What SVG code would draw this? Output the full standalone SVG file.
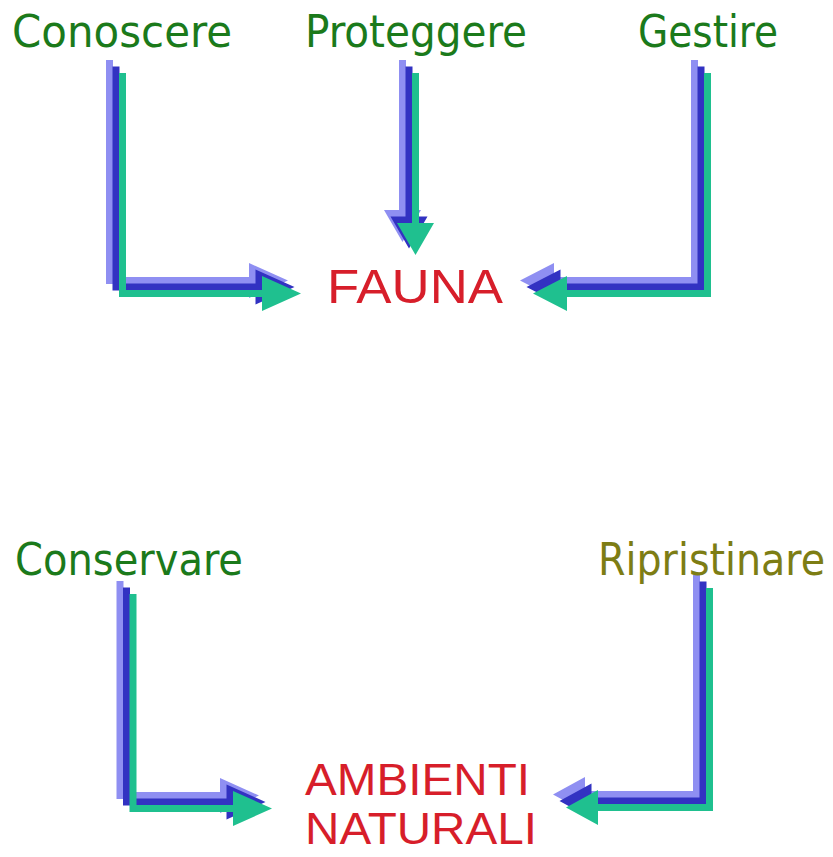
<svg xmlns="http://www.w3.org/2000/svg" xmlns:xlink="http://www.w3.org/1999/xlink" width="833" height="857" viewBox="0 0 833 857">
<style>
  .lbl { font-family: "Liberation Sans Narrow", "DejaVu Sans Condensed", "Liberation Sans", sans-serif; font-size: 44px; fill: #1b7a1b; }
  .olive { fill: #7d7d14; }
  .tgt { font-family: "Liberation Sans", "DejaVu Sans", sans-serif; font-size: 49px; fill: #d71e2a; }
  .tgt2 { font-size: 44px; }
  .l1 { fill: #8f8ff2; }
  .l2 { fill: #3232c2; }
  .l3 { fill: #1fc08f; }
</style>
<defs>
  <path id="a1" d="M119,73 H126 V290 H262 V276 L301,293.5 L262,311 V297 H119 Z"/>
  <path id="a2" d="M412,73 H419 V223 H434 L415.5,255 L397,223 H412 Z"/>
  <path id="a3" d="M704,73 H711 V297 H567 V311 L533,293.5 L567,276 V290 H704 Z"/>
  <path id="a4" d="M129.5,594 H136.5 V805 H233 V791 L272,808.5 L233,826 V812 H129.5 Z"/>
  <path id="a5" d="M706,588 H713 V811 H598 V825 L566,807.5 L598,790 V804 H706 Z"/>
</defs>
<rect width="833" height="857" fill="#ffffff"/>
<g id="connectors">
  <use xlink:href="#a1" href="#a1" class="l1" transform="translate(-13,-13)"/>
  <use xlink:href="#a1" href="#a1" class="l2" transform="translate(-6.5,-6.5)"/>
  <use xlink:href="#a1" href="#a1" class="l3"/>
  <use xlink:href="#a2" href="#a2" class="l1" transform="translate(-13,-13)"/>
  <use xlink:href="#a2" href="#a2" class="l2" transform="translate(-6.5,-6.5)"/>
  <use xlink:href="#a2" href="#a2" class="l3"/>
  <use xlink:href="#a3" href="#a3" class="l1" transform="translate(-13,-13)"/>
  <use xlink:href="#a3" href="#a3" class="l2" transform="translate(-6.5,-6.5)"/>
  <use xlink:href="#a3" href="#a3" class="l3"/>
  <use xlink:href="#a4" href="#a4" class="l1" transform="translate(-13,-13)"/>
  <use xlink:href="#a4" href="#a4" class="l2" transform="translate(-6.5,-6.5)"/>
  <use xlink:href="#a4" href="#a4" class="l3"/>
  <use xlink:href="#a5" href="#a5" class="l1" transform="translate(-13,-13)"/>
  <use xlink:href="#a5" href="#a5" class="l2" transform="translate(-6.5,-6.5)"/>
  <use xlink:href="#a5" href="#a5" class="l3"/>
</g>
<g id="conoscere"><text class="lbl" x="12" y="47" textLength="220" lengthAdjust="spacingAndGlyphs">Conoscere</text></g>
<g id="proteggere"><text class="lbl" x="305" y="47" textLength="222" lengthAdjust="spacingAndGlyphs">Proteggere</text></g>
<g id="gestire"><text class="lbl" x="638" y="47" textLength="140" lengthAdjust="spacingAndGlyphs">Gestire</text></g>
<g id="fauna"><text class="tgt" x="327" y="303" textLength="176" lengthAdjust="spacingAndGlyphs">FAUNA</text></g>
<g id="conservare"><text class="lbl" x="15" y="575" textLength="228" lengthAdjust="spacingAndGlyphs">Conservare</text></g>
<g id="ripristinare"><text class="lbl olive" x="598" y="575" textLength="227" lengthAdjust="spacingAndGlyphs">Ripristinare</text></g>
<g id="ambienti-naturali">
  <text class="tgt tgt2" x="305" y="795" textLength="225" lengthAdjust="spacingAndGlyphs">AMBIENTI</text>
  <text class="tgt tgt2" x="305" y="844" textLength="232" lengthAdjust="spacingAndGlyphs">NATURALI</text>
</g>
</svg>
